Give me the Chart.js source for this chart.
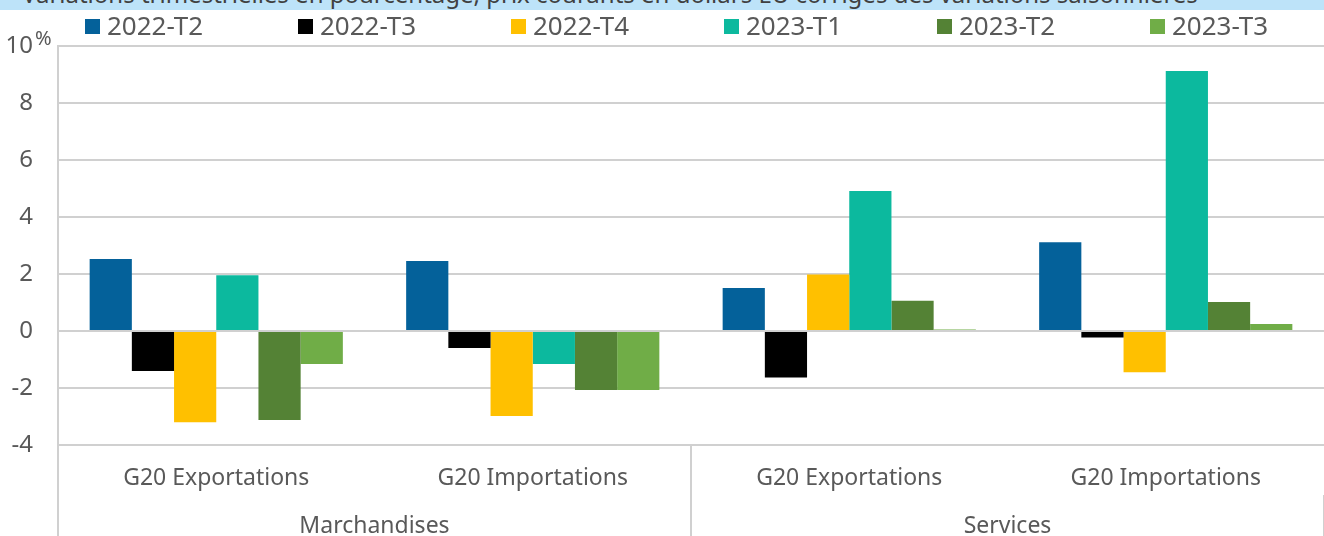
<!DOCTYPE html>
<html lang="fr">
<head>
<meta charset="utf-8">
<script src="https://cdn.jsdelivr.net/npm/chart.js@4"></script>
<style>
body { margin: 0; background: #fff; width: 1324px; height: 536px; overflow: hidden; position: relative; font-family: "Noto Sans", sans-serif; }
#banner { position: absolute; left: 0; top: 0; width: 1324px; height: 10px; background: #bde3f9; overflow: hidden; z-index: 2; }
#banner span { position: absolute; left: 22px; top: -18px; font-size: 24px; line-height: 24px; color: #404040; white-space: nowrap; }
#legend { position: absolute; left: 85px; top: 9px; display: flex; z-index: 2; }
#legend .item { width: 213px; display: flex; align-items: center; font-size: 26px; color: #595959; height: 32px; }
#legend .box { width: 15px; height: 15px; margin-right: 7px; margin-top: 3px; }
canvas { position: absolute; left: 0; top: 0; }
</style>
</head>
<body>
<div id="banner"><span>Variations trimestrielles en pourcentage, prix courants en dollars EU corrigés des variations saisonnières</span></div>
<div id="legend"></div>
<canvas id="chart" width="1324" height="536"></canvas>
<script>
// données
const categories = ['G20 Exportations', 'G20 Importations', 'G20 Exportations', 'G20 Importations'];
const groups = ['Marchandises', 'Services'];
const seriesNames = ['2022-T2', '2022-T3', '2022-T4', '2023-T1', '2023-T2', '2023-T3'];
const seriesColors = ['#04619a', '#000000', '#ffc000', '#0cb99e', '#548235', '#70ad47'];
const t2022T2 = [2.53, 2.46, 1.51, 3.11];
const t2022T3 = [-1.40, -0.60, -1.63, -0.23];
const t2022T4 = [-3.20, -2.98, 1.98, -1.45];
const t2023T1 = [1.96, -1.16, 4.91, 9.12];
const t2023T2 = [-3.12, -2.07, 1.06, 1.02];
const t2023T3 = [-1.16, -2.07, 0.05, 0.25];
const yTicks = [-4, -2, 0, 2, 4, 6, 8, 10];

const seriesValues = [t2022T2, t2022T3, t2022T4, t2023T1, t2023T2, t2023T3];
const gridColor = '#d0d0d0';
const textColor = '#595959';
const fontFamily = '"Noto Sans", sans-serif';

// légende HTML
function buildLegend() {
const legend = document.getElementById('legend');
seriesNames.forEach((name, i) => {
const item = document.createElement('div');
item.className = 'item';
item.innerHTML = `<span class="box" style="background:${seriesColors[i]}"></span>${name}`;
legend.appendChild(item);
});
}

// "%" en exposant après le 10 de l'axe
const percentPlugin = {
id: 'percent',
afterDraw(chart) {
const y = chart.scales.y;
const ctx = chart.ctx;
const py = y.getPixelForValue(yTicks[yTicks.length - 1]);
ctx.save();
ctx.font = `20px ${fontFamily}`;
ctx.fillStyle = textColor;
ctx.textAlign = 'left';
ctx.textBaseline = 'alphabetic';
ctx.fillText('%', y.right - 23, py - 1);
ctx.restore();
}
};

function drawChart() {
const ctx = document.getElementById('chart').getContext('2d');
new Chart(ctx, {
type: 'bar',
data: {
labels: categories,
datasets: seriesNames.map((name, i) => ({
label: name,
data: seriesValues[i],
backgroundColor: seriesColors[i],
borderWidth: 0,
barPercentage: 1.0,
categoryPercentage: 0.8,
xAxisID: 'x',
})),
},
options: {
responsive: false,
animation: false,
layout: { padding: { top: 46, left: 0, right: 0, bottom: 0 } },
plugins: { legend: { display: false }, tooltip: { enabled: false } },
scales: {
y: {
min: yTicks[0],
max: yTicks[yTicks.length - 1],
afterBuildTicks: scale => { scale.ticks = yTicks.map(v => ({ value: v })); },
afterFit: scale => { scale.width = 58; },
grid: { color: gridColor, lineWidth: 2, drawTicks: false },
border: { display: true, color: gridColor, width: 2 },
ticks: {
padding: 25,
color: textColor,
font: { family: fontFamily, size: 24 },
callback: v => String(v),
},
},
x: {
weight: 0,
afterFit: scale => { scale.height = 50; },
grid: {
offset: true,
drawOnChartArea: false,
tickLength: 50,
lineWidth: 2,
color: c => (c.index % 2 === 0 ? gridColor : 'rgba(0,0,0,0)'),
},
border: { display: false },
ticks: { padding: -30, color: textColor, font: { family: fontFamily, size: 23 }, maxRotation: 0 },
},
x2: {
type: 'category',
labels: groups,
position: 'bottom',
offset: true,
weight: 1,
afterFit: scale => { scale.height = 41; },
grid: { offset: true, drawOnChartArea: false, tickLength: 41, lineWidth: 2, color: gridColor },
border: { display: false },
ticks: { padding: -23, color: textColor, font: { family: fontFamily, size: 23 }, maxRotation: 0 },
},
},
},
plugins: [percentPlugin],
});
}

window.onload = () => {
buildLegend();
drawChart();
};
</script>
</body>
</html>
